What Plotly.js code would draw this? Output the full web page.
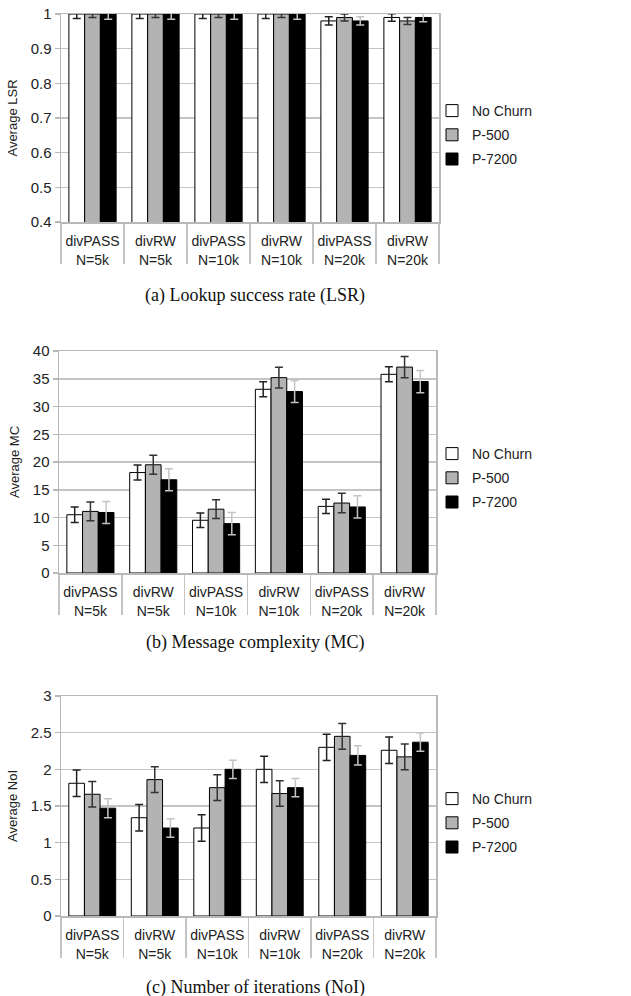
<!DOCTYPE html>
<html>
<head>
<meta charset="utf-8">
<script src="https://cdn.plot.ly/plotly-3.0.1.min.js"></script>
<style>html,body{margin:0;padding:0;background:#fff;}#chart{width:631px;height:996px;}</style>
</head>
<body>
<div id="chart"></div>
<script>
// ---- data ----
const categories = ["divPASS<br>N=5k","divRW<br>N=5k","divPASS<br>N=10k","divRW<br>N=10k","divPASS<br>N=20k","divRW<br>N=20k"];
const seriesNames = ["No Churn","P-500","P-7200"];

const lsrNoChurn    = [1, 1, 1, 1, 0.98, 0.99];
const lsrNoChurnErr = [0.013, 0.013, 0.013, 0.013, 0.012, 0.011];
const lsrP500       = [1, 1, 1, 1, 0.99, 0.98];
const lsrP500Err    = [0.01, 0.01, 0.01, 0.01, 0.01, 0.01];
const lsrP7200      = [1, 1, 1, 1, 0.98, 0.99];
const lsrP7200Err   = [0.015, 0.015, 0.015, 0.015, 0.012, 0.012];

const mcNoChurn    = [10.5, 18.1, 9.5, 33.1, 12.0, 35.8];
const mcNoChurnErr = [1.4, 1.35, 1.3, 1.35, 1.3, 1.35];
const mcP500       = [11.1, 19.5, 11.5, 35.2, 12.6, 37.1];
const mcP500Err    = [1.7, 1.7, 1.7, 1.85, 1.75, 1.9];
const mcP7200      = [10.9, 16.8, 8.9, 32.7, 11.9, 34.5];
const mcP7200Err   = [2.0, 2.0, 2.0, 2.0, 2.0, 2.0];

const noiNoChurn    = [1.81, 1.34, 1.2, 2.0, 2.3, 2.26];
const noiNoChurnErr = [0.18, 0.18, 0.18, 0.18, 0.18, 0.18];
const noiP500       = [1.66, 1.86, 1.75, 1.67, 2.45, 2.17];
const noiP500Err    = [0.175, 0.175, 0.175, 0.175, 0.175, 0.175];
const noiP7200      = [1.47, 1.2, 2.0, 1.75, 2.19, 2.37];
const noiP7200Err   = [0.13, 0.125, 0.125, 0.125, 0.13, 0.125];

const yTitles = ["Average LSR","Average MC","Average NoI"];
const captions = ["(a) Lookup success rate (LSR)","(b) Message complexity (MC)","(c) Number of iterations (NoI)"];

// ---- styles ----
const fills = ["#ffffff","#b3b3b3","#000000"];
const errColors = ["#222222","#333333","#c4c4c4"];
const W = 631, H = 996;
const panels = [
  {vals:[lsrNoChurn,lsrP500,lsrP7200], errs:[lsrNoChurnErr,lsrP500Err,lsrP7200Err], range:[0.4,1], dtick:0.1,
   left:61, right:439, top:14, bottom:222, cap:295, leg:135},
  {vals:[mcNoChurn,mcP500,mcP7200], errs:[mcNoChurnErr,mcP500Err,mcP7200Err], range:[0,40], dtick:5,
   left:59, right:436, top:351, bottom:573, cap:642, leg:478},
  {vals:[noiNoChurn,noiP500,noiP7200], errs:[noiNoChurnErr,noiP500Err,noiP7200Err], range:[0,3], dtick:0.5,
   left:61, right:436, top:696, bottom:916, cap:987, leg:823}
];

const traces = [];
const layout = {
  width: W, height: H,
  margin: {l:0, r:0, t:0, b:0},
  paper_bgcolor: "#ffffff", plot_bgcolor: "#ffffff",
  barmode: "group", bargap: 0.25, bargroupgap: 0,
  font: {family: "Liberation Sans, Arial, sans-serif", size: 14, color: "#222"},
  showlegend: true,
  annotations: []
};

panels.forEach((p, i) => {
  const sfx = i === 0 ? "" : String(i + 1);
  const legName = "legend" + sfx;
  for (let s = 0; s < 3; s++) {
    traces.push({
      type: "bar", name: seriesNames[s], x: categories, y: p.vals[s],
      xaxis: "x" + sfx, yaxis: "y" + sfx, legend: legName, legendgroup: "g" + i + s,
      marker: {color: fills[s], line: {color: "#000", width: 1}},
      error_y: {type: "data", array: p.errs[s], visible: true, color: errColors[s], thickness: 1.5, width: 4},
      hoverinfo: "y"
    });
  }
  layout["xaxis" + sfx] = {
    domain: [p.left / W, p.right / W], anchor: "y" + sfx, type: "category",
    showline: true, linecolor: "#b8b8b8", linewidth: 1.5, mirror: true,
    showgrid: false, zeroline: false,
    ticks: "outside", tickson: "boundaries", ticklen: 40, tickwidth: 1.5, tickcolor: "#c4c4c4",
    ticklabelstandoff: 6, tickangle: 0,
    tickfont: {size: 14, color: "#222"}, fixedrange: true
  };
  layout["yaxis" + sfx] = {
    domain: [1 - p.bottom / H, 1 - p.top / H], anchor: "x" + sfx,
    range: p.range, dtick: p.dtick, tick0: 0,
    showline: true, linecolor: "#b8b8b8", linewidth: 1.5, mirror: true,
    showgrid: true, gridcolor: "#c4c4c4", gridwidth: 1.5, zeroline: false,
    ticks: "outside", ticklen: 5, tickwidth: 1.5, tickcolor: "#b8b8b8",
    tickfont: {size: 15, color: "#222"},
    title: {text: yTitles[i], font: {size: 13, color: "#222"}, standoff: 10},
    fixedrange: true
  };
  layout[legName] = {
    x: 432 / W, y: 1 - p.leg / H, xanchor: "left", yanchor: "middle",
    font: {size: 14, color: "#222"}, bgcolor: "rgba(0,0,0,0)", traceorder: "grouped", tracegroupgap: 3
  };
  layout.annotations.push({
    text: captions[i], xref: "paper", yref: "paper", x: 255 / W, y: 1 - p.cap / H,
    xanchor: "center", yanchor: "middle", showarrow: false,
    font: {family: "Liberation Serif, Times New Roman, serif", size: 18, color: "#111"}
  });
});

Plotly.newPlot("chart", traces, layout, {displayModeBar: false, staticPlot: true});
</script>
</body>
</html>
